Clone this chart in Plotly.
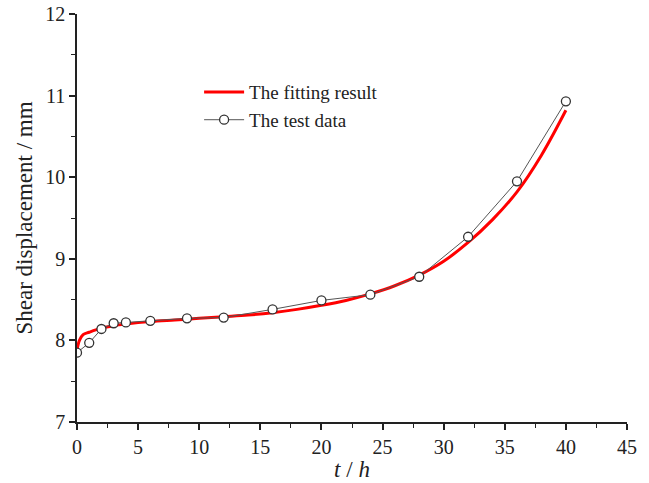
import plotly.graph_objects as go

# Test data
test_t = [0, 1, 2, 3, 4, 6, 9, 12, 16, 20, 24, 28, 32, 36, 40]
test_y = [7.85, 7.97, 8.14, 8.21, 8.22, 8.24, 8.27, 8.28, 8.38, 8.49, 8.56, 8.78, 9.27, 9.95, 10.93]

# Fitting curve
fit_t = [0, 0.2, 0.5, 1, 2, 3, 4, 6, 8, 10, 12, 14, 16, 18, 20, 22, 24, 26, 28, 30, 32, 34, 36, 38, 40]
fit_y = [7.88, 8.0, 8.07, 8.10, 8.15, 8.18, 8.20, 8.23, 8.25, 8.27, 8.29, 8.31, 8.34, 8.38, 8.43,
         8.49, 8.57, 8.67, 8.80, 8.97, 9.20, 9.48, 9.82, 10.27, 10.82]

x_ticks = [0, 5, 10, 15, 20, 25, 30, 35, 40, 45]
y_ticks = [7, 8, 9, 10, 11, 12]

font = "Liberation Serif, Times New Roman, serif"

fig = go.Figure()
fig.add_trace(go.Scatter(
    x=fit_t, y=fit_y, mode="lines", name="The fitting result",
    line=dict(color="#ff0000", width=3, shape="spline"),
))
fig.add_trace(go.Scatter(
    x=test_t, y=test_y, mode="lines+markers", name="The test data",
    line=dict(color="#555555", width=1),
    marker=dict(symbol="circle", size=9, color="white", line=dict(color="#333333", width=1.3)),
))

fig.update_layout(
    width=649, height=483,
    margin=dict(l=77, r=22, t=14, b=61, autoexpand=False),
    paper_bgcolor="white", plot_bgcolor="white",
    font=dict(family=font, size=20, color="#222222"),
    showlegend=True,
    legend=dict(x=0.222, y=0.855, xanchor="left", yanchor="top",
                bgcolor="rgba(0,0,0,0)", font=dict(size=19, family=font),
                tracegroupgap=0, itemwidth=40),
    xaxis=dict(
        range=[0, 45], tickvals=x_ticks, ticktext=[str(v) for v in x_ticks],
        automargin=False,
        showgrid=False, zeroline=False, showline=True, linecolor="#222222", linewidth=1.5,
        ticks="outside", ticklen=6, tickwidth=1.5, tickcolor="#222222",
        minor=dict(dtick=2.5, ticks="outside", ticklen=4, tickwidth=1.2, tickcolor="#222222", showgrid=False),
        title=dict(text="<i>t</i> / <i>h</i>", font=dict(size=23, family=font), standoff=4),
    ),
    yaxis=dict(
        range=[7, 12], tickvals=y_ticks, ticktext=[str(v) for v in y_ticks],
        automargin=False,
        showgrid=False, zeroline=False, showline=True, linecolor="#222222", linewidth=1.5,
        ticks="outside", ticklen=6, tickwidth=1.5, tickcolor="#222222",
        minor=dict(dtick=0.5, ticks="outside", ticklen=4, tickwidth=1.2, tickcolor="#222222", showgrid=False),
        title=dict(text="Shear displacement / mm", font=dict(size=23, family=font), standoff=6),
    ),
)

fig.write_html("out.html")
